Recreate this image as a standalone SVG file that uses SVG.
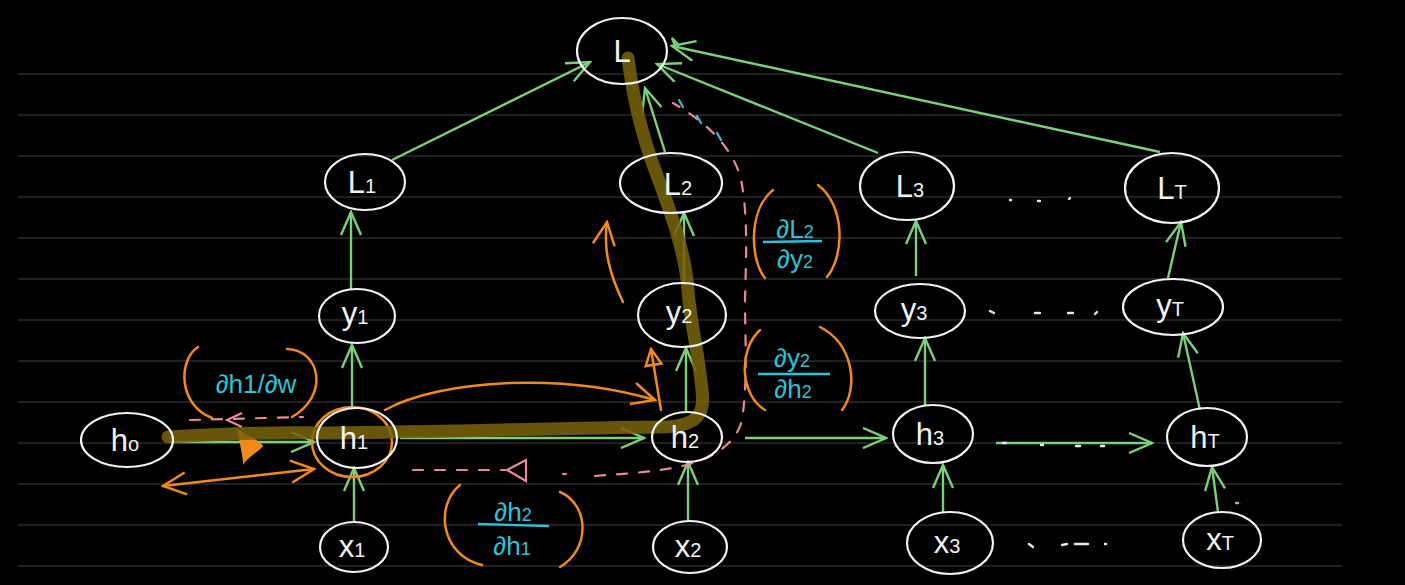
<svg xmlns="http://www.w3.org/2000/svg" width="1405" height="585" viewBox="0 0 1405 585">
<defs>
<style>
.rule{stroke:#2b2b2b;stroke-width:1.5}
.node ellipse{fill:none;stroke:#f2f2f2;stroke-width:2.2}
.node text{fill:#f2f2f2;font-family:"Liberation Sans","DejaVu Sans",sans-serif;font-size:31px;text-anchor:middle}
.sub{font-size:20px}
.g{stroke:#7bd07b;stroke-width:2.4;fill:none;marker-end:url(#ga)}
.o{stroke:#f08a1c;stroke-width:2.5;fill:none;stroke-linecap:round}
.p{stroke:#e8899a;stroke-width:2.2;fill:none;stroke-dasharray:10 12;stroke-linecap:round}
.c{fill:#2cc3d6;font-family:"Liberation Sans","DejaVu Sans",sans-serif;font-size:26px;text-anchor:middle}
.bar{stroke:#2cc3d6;stroke-width:2.4}
.dot{stroke:#e8e8e8;stroke-width:2.4;stroke-linecap:round}
</style>
<marker id="ga" viewBox="0 0 26 22" refX="24" refY="11" markerWidth="26" markerHeight="22" markerUnits="userSpaceOnUse" orient="auto">
<path d="M1,1 L24,11 L1,21" fill="none" stroke="#7bd07b" stroke-width="2.4"/>
</marker>
<marker id="oa" viewBox="0 0 26 26" refX="24" refY="13" markerWidth="26" markerHeight="26" markerUnits="userSpaceOnUse" orient="auto-start-reverse">
<path d="M1,2 L24,13 L1,24" fill="none" stroke="#f08a1c" stroke-width="2.5"/>
</marker>
<marker id="ot" viewBox="0 0 20 20" refX="18" refY="10" markerWidth="20" markerHeight="20" markerUnits="userSpaceOnUse" orient="auto">
<path d="M2,2 L18,10 L2,18 Z" fill="none" stroke="#f08a1c" stroke-width="2.5"/>
</marker>
</defs>
<rect width="1405" height="585" fill="#000"/>
<g id="rules">
<line class="rule" x1="18" y1="74" x2="1342" y2="74"/>
<line class="rule" x1="18" y1="115" x2="1342" y2="115"/>
<line class="rule" x1="18" y1="156" x2="1342" y2="156"/>
<line class="rule" x1="18" y1="197" x2="1342" y2="197"/>
<line class="rule" x1="18" y1="238" x2="1342" y2="238"/>
<line class="rule" x1="18" y1="279" x2="1342" y2="279"/>
<line class="rule" x1="18" y1="320" x2="1342" y2="320"/>
<line class="rule" x1="18" y1="361" x2="1342" y2="361"/>
<line class="rule" x1="18" y1="402" x2="1342" y2="402"/>
<line class="rule" x1="18" y1="443" x2="1342" y2="443"/>
<line class="rule" x1="18" y1="484" x2="1342" y2="484"/>
<line class="rule" x1="18" y1="525" x2="1342" y2="525"/>
<line class="rule" x1="18" y1="566" x2="1342" y2="566"/>
</g>
<g id="connectors">
<line class="g" x1="173" y1="442" x2="314" y2="442"/>
<line class="g" x1="400" y1="438" x2="644" y2="438"/>
<line class="g" x1="745" y1="438" x2="886" y2="438"/>
<line class="g" x1="996" y1="443" x2="1152" y2="443"/>
<line class="g" x1="354" y1="522" x2="354" y2="468"/>
<line class="g" x1="688" y1="522" x2="688" y2="462"/>
<line class="g" x1="943" y1="512" x2="943" y2="465"/>
<line class="g" x1="1218" y1="512" x2="1212" y2="467"/>
<line class="g" x1="352" y1="408" x2="352" y2="345"/>
<line class="g" x1="686" y1="412" x2="686" y2="348"/>
<line class="g" x1="925" y1="405" x2="925" y2="338"/>
<line class="g" x1="1200" y1="410" x2="1183" y2="333"/>
<line class="g" x1="351" y1="290" x2="351" y2="212"/>
<line class="g" x1="684" y1="282" x2="684" y2="213"/>
<line class="g" x1="916" y1="276" x2="916" y2="221"/>
<line class="g" x1="1168" y1="278" x2="1181" y2="222"/>
<line class="g" x1="392" y1="160" x2="590" y2="62"/>
<line class="g" x1="665" y1="152" x2="645" y2="88"/>
<line class="g" x1="878" y1="153" x2="657" y2="64"/>
<line class="g" x1="1160" y1="152" x2="672" y2="46"/>
<path d="M678,44 L672,38 L676,48" fill="none" stroke="#7bd07b" stroke-width="2.4"/>
</g>
<g id="dots">
<line class="dot" x1="1010" y1="200" x2="1011" y2="200"/>
<line class="dot" x1="1038" y1="201" x2="1040" y2="201"/>
<line class="dot" x1="1069" y1="199" x2="1070" y2="198"/>
<line class="dot" x1="990" y1="311" x2="994" y2="313"/>
<line class="dot" x1="1035" y1="313" x2="1040" y2="313"/>
<line class="dot" x1="1068" y1="313" x2="1073" y2="313"/>
<line class="dot" x1="1095" y1="314" x2="1097" y2="312"/>
<line class="dot" x1="1003" y1="443" x2="1006" y2="443"/>
<line class="dot" x1="1041" y1="445" x2="1043" y2="445"/>
<line class="dot" x1="1076" y1="446" x2="1080" y2="446"/>
<line class="dot" x1="1101" y1="446" x2="1104" y2="446"/>
<line class="dot" x1="1029" y1="544" x2="1033" y2="547"/>
<line class="dot" x1="1062" y1="545" x2="1067" y2="544"/>
<line class="dot" x1="1075" y1="544" x2="1088" y2="544"/>
<line class="dot" x1="1105" y1="544" x2="1106" y2="544"/>
<line x1="1236" y1="503" x2="1238" y2="503" stroke="#7bd07b" stroke-width="2.4" stroke-linecap="round"/>
</g>
<g id="annotations">
<path class="p" d="M190,420 L303,417"/>
<path d="M242,413 L227,420 L242,427" fill="none" stroke="#e8899a" stroke-width="2.2"/>
<path class="p" d="M413,470 L505,470"/>
<path d="M526,460 L507,470 L526,481 Z" fill="none" stroke="#e8899a" stroke-width="2.2"/>
<path class="p" d="M563,474 L566,474 M595,476 C620,474 640,473 660,470 C700,465 735,450 742,420 C748,380 745,340 745,300 C746,260 748,220 742,185 C738,160 720,130 673,103" stroke-dasharray="12 11"/>
<path d="M679,100 L683,107 M697,116 L701,123 M717,133 L721,140" stroke="#2cc3d6" stroke-width="2.2" stroke-linecap="round"/>
<path class="o" d="M198,347 C178,360 178,405 212,418"/>
<path class="o" d="M287,349 C320,350 330,395 292,417"/>
<path class="o" d="M460,485 C435,505 440,555 482,565"/>
<path class="o" d="M560,492 C590,505 590,550 560,567"/>
<path class="o" d="M773,190 C748,210 750,260 765,278"/>
<path class="o" d="M818,185 C845,205 845,255 827,277"/>
<path class="o" d="M760,330 C738,350 740,395 765,410"/>
<path class="o" d="M820,327 C855,345 858,390 842,410"/>
<path class="o" d="M385,410 C440,380 560,372 655,400" marker-end="url(#oa)"/>
<path class="o" d="M661,410 L651,349" marker-end="url(#ot)"/>
<path class="o" d="M623,302 C610,275 603,250 607,222" marker-end="url(#oa)"/>
<path class="o" d="M163,486 L314,469" marker-start="url(#oa)" marker-end="url(#oa)"/>
<ellipse cx="352" cy="442" rx="40" ry="35" class="o"/>
<path d="M239,431 C246,436 258,440 262,446 C256,452 248,456 244,462 C243,452 240,442 239,431 Z" fill="#f08a1c" stroke="#f08a1c" stroke-width="2"/>
<text class="c" x="256" y="393">∂h1/∂w</text>
<text class="c" x="513" y="521">∂h<tspan font-size="18">2</tspan></text>
<line class="bar" x1="478" y1="524" x2="549" y2="526"/>
<text class="c" x="512" y="555">∂h<tspan font-size="18">1</tspan></text>
<text class="c" x="795" y="238">∂L<tspan font-size="18">2</tspan></text>
<line class="bar" x1="763" y1="242" x2="822" y2="241"/>
<text class="c" x="795" y="268">∂y<tspan font-size="18">2</tspan></text>
<text class="c" x="792" y="367">∂y<tspan font-size="18">2</tspan></text>
<line class="bar" x1="758" y1="374" x2="830" y2="374"/>
<text class="c" x="793" y="398">∂h<tspan font-size="18">2</tspan></text>
</g>
<path id="highlight" d="M168,437 C220,434 280,432 330,433 C450,432 560,428 660,427 C700,427 705,412 702,390 C698,350 690,320 688,290 C685,250 670,210 655,170 C640,130 632,90 628,58" fill="none" stroke="#75620a" stroke-width="13" stroke-linecap="round" opacity="0.88"/>
<g id="n-L" class="node"><ellipse cx="622" cy="51" rx="45" ry="33"/><text x="622" y="62">L</text></g>
<g id="n-L1" class="node"><ellipse cx="365" cy="182" rx="40" ry="28"/><text x="362" y="193">L<tspan class="sub">1</tspan></text></g>
<g id="n-L2" class="node"><ellipse cx="671" cy="183" rx="51" ry="30"/><text x="678" y="195">L<tspan class="sub">2</tspan></text></g>
<g id="n-L3" class="node"><ellipse cx="907" cy="186" rx="47" ry="34"/><text x="910" y="197">L<tspan class="sub">3</tspan></text></g>
<g id="n-LT" class="node"><ellipse cx="1172" cy="188" rx="47" ry="35"/><text x="1172" y="199">L<tspan class="sub">T</tspan></text></g>
<g id="n-y1" class="node"><ellipse cx="357" cy="316" rx="38" ry="27"/><text x="355" y="324">y<tspan class="sub">1</tspan></text></g>
<g id="n-y2" class="node"><ellipse cx="682" cy="315" rx="44" ry="32"/><text x="679" y="323">y<tspan class="sub">2</tspan></text></g>
<g id="n-y3" class="node"><ellipse cx="920" cy="311" rx="45" ry="27"/><text x="914" y="320">y<tspan class="sub">3</tspan></text></g>
<g id="n-yT" class="node"><ellipse cx="1173" cy="307" rx="50" ry="28"/><text x="1170" y="316">y<tspan class="sub">T</tspan></text></g>
<g id="n-h0" class="node"><ellipse cx="127" cy="440" rx="46" ry="27"/><text x="125" y="451">h<tspan class="sub">o</tspan></text></g>
<g id="n-h1" class="node"><ellipse cx="357" cy="438" rx="40" ry="30"/><text x="354" y="449">h<tspan class="sub">1</tspan></text></g>
<g id="n-h2" class="node"><ellipse cx="687" cy="437" rx="35" ry="25"/><text x="685" y="448">h<tspan class="sub">2</tspan></text></g>
<g id="n-h3" class="node"><ellipse cx="933" cy="434" rx="40" ry="29"/><text x="930" y="445">h<tspan class="sub">3</tspan></text></g>
<g id="n-hT" class="node"><ellipse cx="1207" cy="437" rx="40" ry="29"/><text x="1205" y="448">h<tspan class="sub">T</tspan></text></g>
<g id="n-x1" class="node"><ellipse cx="354" cy="547" rx="34" ry="25"/><text x="352" y="557">x<tspan class="sub">1</tspan></text></g>
<g id="n-x2" class="node"><ellipse cx="690" cy="547" rx="37" ry="26"/><text x="688" y="557">x<tspan class="sub">2</tspan></text></g>
<g id="n-x3" class="node"><ellipse cx="950" cy="543" rx="43" ry="31"/><text x="947" y="553">x<tspan class="sub">3</tspan></text></g>
<g id="n-xT" class="node"><ellipse cx="1222" cy="540" rx="39" ry="28"/><text x="1220" y="550">x<tspan class="sub">T</tspan></text></g>
</svg>
